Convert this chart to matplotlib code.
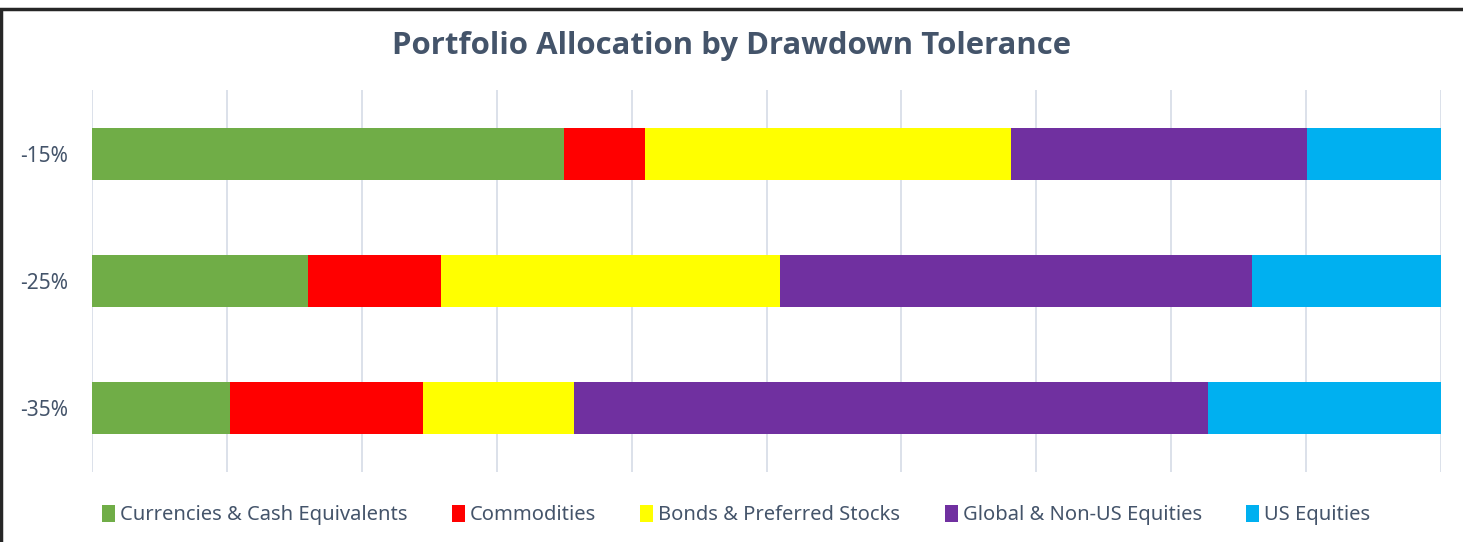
import matplotlib.pyplot as plt
from matplotlib.patches import Rectangle
import numpy as np

# drawdown tolerance levels (top to bottom)
levels = ['-15%', '-25%', '-35%']
assets = ['Currencies & Cash Equivalents', 'Commodities', 'Bonds & Preferred Stocks',
          'Global & Non-US Equities', 'US Equities']
colors = ['#70AD47', '#FF0000', '#FFFF00', '#7030A0', '#00B0F0']

# allocation (%) per asset class, ordered as levels
cash = [35.0, 16.0, 10.2]
commodities = [6.0, 9.9, 14.3]
bonds = [27.1, 25.1, 11.2]
global_eq = [22.0, 35.0, 47.0]
us_eq = [9.9, 14.0, 17.3]

series = [cash, commodities, bonds, global_eq, us_eq]

plt.rcParams['font.family'] = ['Noto Sans', 'DejaVu Sans']
text_col = '#44546A'

fig = plt.figure(figsize=(14.63, 5.42), dpi=100)
ax = fig.add_axes([92 / 1463, 1 - 472 / 542, (1441 - 92) / 1463, (472 - 90) / 542])

y = np.arange(len(levels))
left = np.zeros(len(levels))
for name, vals, c in zip(assets, series, colors):
    ax.barh(y, vals, left=left, height=0.406, color=c, label=name, zorder=3)
    left += np.array(vals)

ax.set_xlim(0, 100)
ax.set_ylim(2.5, -0.5)
ax.set_xticks(np.arange(0, 101, 10))
ax.set_xticklabels([])
ax.set_yticks(y)
ax.set_yticklabels(levels, fontsize=15, color=text_col)
ax.tick_params(length=0, pad=17)
ax.grid(axis='x', color='#D9DEE8', linewidth=1.3, zorder=0)
for s in ax.spines.values():
    s.set_visible(False)

fig.text(732 / 1463, 1 - 46 / 542, 'Portfolio Allocation by Drawdown Tolerance',
         ha='center', va='center', fontsize=22.4, fontweight='bold', color=text_col,
         family=['Open Sans', 'DejaVu Sans'])

fig.legend(loc='center', bbox_to_anchor=(736 / 1463, 1 - 515 / 542), ncol=5,
           frameon=False, fontsize=14.5, handlelength=0.65, handleheight=0.9,
           handletextpad=0.25, columnspacing=2.2, labelcolor=text_col)

# outer frame (cropped chart border)
fig.patches.append(Rectangle((1 / 1463, -0.1), 1.2, 1 - 9 / 542 + 0.1,
                             transform=fig.transFigure, fill=False,
                             edgecolor='#262626', linewidth=2.5))

fig.savefig('out.png', dpi=100)
